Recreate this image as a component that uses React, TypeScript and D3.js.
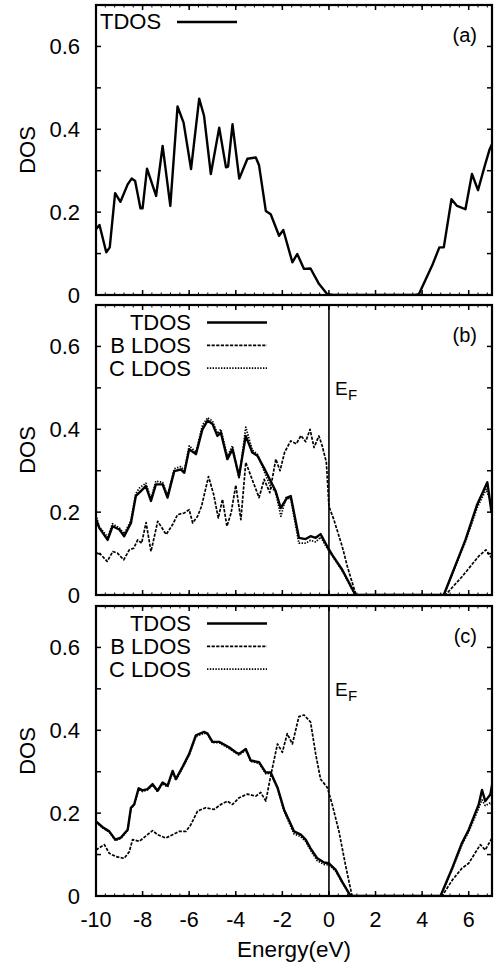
import React from 'react';
import * as d3 from 'd3';

// energy (eV), DOS pairs
const aTdos: [number, number][] = [
  [-10.06, 0.155], [-9.85, 0.169], [-9.56, 0.103], [-9.41, 0.115], [-9.18, 0.246], [-8.95, 0.225],
  [-8.64, 0.267], [-8.47, 0.281], [-8.32, 0.275], [-8.09, 0.209], [-8.0, 0.209], [-7.81, 0.305],
  [-7.42, 0.239], [-7.14, 0.36], [-6.81, 0.215], [-6.5, 0.455], [-6.24, 0.416], [-5.92, 0.304],
  [-5.57, 0.474], [-5.36, 0.432], [-5.07, 0.292], [-4.71, 0.404], [-4.42, 0.308], [-4.33, 0.31],
  [-4.14, 0.412], [-3.85, 0.281], [-3.5, 0.329], [-3.14, 0.332], [-3.0, 0.313], [-2.71, 0.203],
  [-2.5, 0.195], [-2.14, 0.143], [-1.96, 0.157], [-1.57, 0.079], [-1.36, 0.099], [-1.07, 0.063],
  [-0.79, 0.064], [-0.43, 0.027], [-0.07, 0.002], [0.2, 0], [3.7, 0], [3.86, 0.002],
  [4.43, 0.071], [4.74, 0.115], [4.93, 0.115], [5.26, 0.231], [5.5, 0.215], [5.86, 0.207],
  [6.14, 0.292], [6.4, 0.253], [6.69, 0.312], [6.9, 0.352], [7.05, 0.37],
];

const bTdos: [number, number][] = [
  [-10.04, 0.19], [-9.86, 0.162], [-9.5, 0.133], [-9.29, 0.166], [-9.0, 0.158], [-8.79, 0.142],
  [-8.5, 0.174], [-8.29, 0.239], [-8.14, 0.247], [-7.86, 0.263], [-7.64, 0.227], [-7.43, 0.267],
  [-7.14, 0.267], [-6.93, 0.235], [-6.64, 0.299], [-6.36, 0.303], [-6.21, 0.295], [-6.0, 0.352],
  [-5.71, 0.34], [-5.43, 0.4], [-5.21, 0.421], [-5.0, 0.413], [-4.79, 0.384], [-4.64, 0.392],
  [-4.36, 0.328], [-4.14, 0.352], [-3.86, 0.287], [-3.57, 0.384], [-3.29, 0.344], [-3.07, 0.336],
  [-2.79, 0.307], [-2.29, 0.251], [-2.07, 0.21], [-1.79, 0.235], [-1.64, 0.239], [-1.29, 0.138],
  [-1.0, 0.135], [-0.79, 0.142], [-0.57, 0.138], [-0.36, 0.147], [-0.07, 0.117], [0.14, 0.097],
  [0.57, 0.061], [1.14, 0], [4.93, 0], [5.86, 0.133], [6.36, 0.218], [6.8, 0.272], [6.98, 0.199],
];

const bBLdos: [number, number][] = [
  [-10.06, 0.105], [-9.78, 0.097], [-9.52, 0.081], [-9.28, 0.105], [-9.08, 0.101], [-8.81, 0.085],
  [-8.57, 0.109], [-8.38, 0.113], [-8.21, 0.133], [-8.04, 0.125], [-7.85, 0.175], [-7.64, 0.105],
  [-7.35, 0.178], [-6.99, 0.146], [-6.71, 0.17], [-6.5, 0.194], [-6.21, 0.198], [-6.0, 0.206],
  [-5.85, 0.174], [-5.64, 0.19], [-5.47, 0.214], [-5.17, 0.286], [-4.95, 0.243], [-4.75, 0.186],
  [-4.57, 0.231], [-4.38, 0.166], [-4.2, 0.198], [-4.0, 0.265], [-3.78, 0.182], [-3.57, 0.32],
  [-3.35, 0.287], [-3.0, 0.235], [-2.78, 0.279], [-2.54, 0.247], [-2.28, 0.328], [-2.1, 0.3],
  [-1.9, 0.345], [-1.64, 0.372], [-1.4, 0.365], [-1.2, 0.385], [-1.0, 0.37], [-0.81, 0.4],
  [-0.64, 0.356], [-0.43, 0.384], [-0.29, 0.36], [-0.11, 0.32], [0.0, 0.214], [0.21, 0.182],
  [0.57, 0.117], [0.79, 0.069], [1.14, 0.004], [1.2, 0], [5.0, 0], [5.71, 0.044], [6.42, 0.093],
  [6.74, 0.109], [6.99, 0.089],
];

const bCLdos: [number, number][] = [
  [-10.04, 0.2], [-9.86, 0.165], [-9.5, 0.14], [-9.29, 0.172], [-9.0, 0.162], [-8.79, 0.148],
  [-8.5, 0.18], [-8.29, 0.245], [-8.14, 0.258], [-7.86, 0.27], [-7.64, 0.232], [-7.43, 0.275],
  [-7.14, 0.272], [-6.93, 0.24], [-6.64, 0.305], [-6.36, 0.31], [-6.21, 0.3], [-6.0, 0.36],
  [-5.71, 0.345], [-5.43, 0.41], [-5.21, 0.428], [-5.0, 0.42], [-4.79, 0.39], [-4.64, 0.4],
  [-4.36, 0.335], [-4.14, 0.36], [-3.86, 0.28], [-3.57, 0.405], [-3.29, 0.35], [-3.07, 0.34],
  [-2.79, 0.3], [-2.5, 0.26], [-2.3, 0.25], [-2.06, 0.19], [-1.85, 0.235], [-1.64, 0.232],
  [-1.29, 0.125], [-1.0, 0.125], [-0.79, 0.132], [-0.57, 0.128], [-0.36, 0.14], [-0.07, 0.112],
  [0.14, 0.095], [0.57, 0.058], [1.12, 0], [4.93, 0], [5.86, 0.128], [6.36, 0.21], [6.75, 0.255],
  [6.97, 0.22],
];

const cTdos: [number, number][] = [
  [-10.0, 0.18], [-9.71, 0.166], [-9.43, 0.156], [-9.17, 0.136], [-8.93, 0.141], [-8.64, 0.16],
  [-8.5, 0.213], [-8.36, 0.221], [-8.17, 0.26], [-8.0, 0.255], [-7.79, 0.258], [-7.57, 0.27],
  [-7.36, 0.254], [-7.14, 0.274], [-6.93, 0.266], [-6.71, 0.302], [-6.57, 0.282], [-6.29, 0.311],
  [-6.0, 0.343], [-5.71, 0.388], [-5.36, 0.396], [-5.21, 0.392], [-5.0, 0.372], [-4.71, 0.372],
  [-4.29, 0.359], [-4.0, 0.347], [-3.86, 0.343], [-3.57, 0.355], [-3.36, 0.327], [-3.0, 0.323],
  [-2.71, 0.298], [-2.5, 0.298], [-2.21, 0.262], [-1.93, 0.209], [-1.5, 0.156], [-1.21, 0.148],
  [-1.0, 0.136], [-0.79, 0.115], [-0.5, 0.091], [-0.21, 0.081], [0.0, 0.079], [0.29, 0.063],
  [0.57, 0.034], [0.93, 0], [4.79, 0], [5.29, 0.067], [5.71, 0.128], [6.0, 0.16], [6.43, 0.221],
  [6.57, 0.256], [6.71, 0.229], [6.93, 0.245], [7.06, 0.286],
];

const cBLdos: [number, number][] = [
  [-10.0, 0.111], [-9.64, 0.124], [-9.43, 0.103], [-9.14, 0.095], [-8.79, 0.091], [-8.57, 0.107],
  [-8.43, 0.136], [-8.14, 0.132], [-7.79, 0.148], [-7.57, 0.158], [-7.36, 0.148], [-7.0, 0.14],
  [-6.71, 0.148], [-6.43, 0.156], [-6.14, 0.156], [-5.93, 0.172], [-5.64, 0.205], [-5.29, 0.213],
  [-4.93, 0.209], [-4.64, 0.221], [-4.36, 0.229], [-4.14, 0.221], [-3.86, 0.237], [-3.5, 0.246],
  [-3.14, 0.241], [-2.93, 0.25], [-2.71, 0.229], [-2.5, 0.29], [-2.21, 0.367], [-2.0, 0.347],
  [-1.79, 0.392], [-1.57, 0.367], [-1.29, 0.433], [-1.07, 0.437], [-0.79, 0.42], [-0.57, 0.343],
  [-0.36, 0.282], [-0.07, 0.262], [0.14, 0.221], [0.43, 0.156], [0.71, 0.075], [0.97, 0.006],
  [1.0, 0], [4.86, 0], [5.29, 0.038], [5.71, 0.067], [6.0, 0.079], [6.5, 0.124], [6.71, 0.111],
  [7.04, 0.144],
];

const cCLdos: [number, number][] = [
  [-10.0, 0.178], [-9.71, 0.164], [-9.43, 0.154], [-9.17, 0.134], [-8.93, 0.139], [-8.64, 0.158],
  [-8.5, 0.21], [-8.36, 0.22], [-8.17, 0.257], [-8.0, 0.252], [-7.79, 0.256], [-7.57, 0.267],
  [-7.36, 0.252], [-7.14, 0.271], [-6.93, 0.263], [-6.71, 0.299], [-6.57, 0.28], [-6.29, 0.308],
  [-6.0, 0.34], [-5.71, 0.385], [-5.36, 0.393], [-5.21, 0.39], [-5.0, 0.37], [-4.71, 0.37],
  [-4.29, 0.356], [-4.0, 0.345], [-3.86, 0.34], [-3.57, 0.352], [-3.36, 0.325], [-3.0, 0.32],
  [-2.71, 0.295], [-2.5, 0.296], [-2.21, 0.26], [-1.93, 0.205], [-1.5, 0.15], [-1.21, 0.143],
  [-1.0, 0.132], [-0.79, 0.11], [-0.5, 0.085], [-0.21, 0.076], [0.0, 0.075], [0.29, 0.06],
  [0.57, 0.032], [0.93, 0], [4.79, 0], [5.29, 0.064], [5.71, 0.124], [6.0, 0.155], [6.43, 0.212],
  [6.57, 0.232], [6.71, 0.218], [6.93, 0.225], [7.06, 0.215],
];

const xTicks = [-10, -8, -6, -4, -2, 0, 2, 4, 6];
const yTicks = [0, 0.2, 0.4, 0.6];
const legendNames = ['TDOS', 'B LDOS', 'C LDOS'];
const panelTags = ['(a)', '(b)', '(c)'];

const FONT = 'Liberation Sans, Arial, Helvetica, sans-serif';
const left = 96;
const right = 492;
const panelTops = [5, 305, 606];
const panelH = 290;

const dashes = ['', '3.2,1.4', '1.4,1.4'];
const widths = [2.4, 1.7, 1.7];

const x = d3.scaleLinear().domain([-10, 7]).range([left, right]);

const panels = [
  { series: [aTdos], ef: false },
  { series: [bTdos, bBLdos, bCLdos], ef: true },
  { series: [cTdos, cBLdos, cCLdos], ef: true },
];

function Panel({ idx }: { idx: number }) {
  const top = panelTops[idx];
  const bottom = top + panelH;
  const y = d3.scaleLinear().domain([0, 0.7]).range([bottom, top]);
  const line = d3.line<[number, number]>().x(d => x(d[0])).y(d => y(d[1]));
  const p = panels[idx];
  const minorX = d3.range(-10, 7.001, 0.4);
  const minorY = d3.range(0.1, 0.7, 0.1);
  const clipId = `clip${idx}`;
  return (
    <g>
      <defs>
        <clipPath id={clipId}>
          <rect x={left} y={top} width={right - left} height={panelH} />
        </clipPath>
      </defs>
      <g clipPath={`url(#${clipId})`}>
        {p.series.slice().reverse().map((s, ri) => {
          const i = p.series.length - 1 - ri;
          return (
            <path key={i} d={line(s) || ''} fill="none" stroke="#000"
              strokeWidth={widths[i]} strokeDasharray={dashes[i] || undefined}
              strokeLinejoin="round" />
          );
        })}
      </g>
      {minorX.map(v => (
        <g key={'mx' + v}>
          <line x1={x(v)} x2={x(v)} y1={bottom} y2={bottom - 2.5} stroke="#000" strokeWidth={1} />
          <line x1={x(v)} x2={x(v)} y1={top} y2={top + 2.5} stroke="#000" strokeWidth={1} />
        </g>
      ))}
      {xTicks.map(v => (
        <g key={'x' + v}>
          <line x1={x(v)} x2={x(v)} y1={bottom} y2={bottom - 5} stroke="#000" strokeWidth={1.5} />
          <line x1={x(v)} x2={x(v)} y1={top} y2={top + 5} stroke="#000" strokeWidth={1.5} />
        </g>
      ))}
      {minorY.map(v => (
        <g key={'y' + v}>
          <line x1={left} x2={left + 5} y1={y(v)} y2={y(v)} stroke="#000" strokeWidth={1.5} />
          <line x1={right} x2={right - 5} y1={y(v)} y2={y(v)} stroke="#000" strokeWidth={1.5} />
        </g>
      ))}
      {yTicks.map(v => (
        <text key={'yl' + v} x={80} y={y(v)} dy="0.36em" textAnchor="end"
          fontFamily={FONT} fontSize={22}>{v === 0 ? '0' : v.toFixed(1)}</text>
      ))}
      {p.ef && (
        <g>
          <line x1={x(0)} x2={x(0)} y1={top} y2={bottom} stroke="#000" strokeWidth={1.6} />
          <text x={335} y={top + 90} fontFamily={FONT} fontSize={19}>E</text>
          <text x={348} y={top + 95} fontFamily={FONT} fontSize={15}>F</text>
        </g>
      )}
      {p.series.length === 1 ? (
        <g>
          <text x={100} y={top + 24} fontFamily={FONT} fontSize={22}>{legendNames[0]}</text>
          <line x1={177} x2={237} y1={top + 17} y2={top + 17} stroke="#000" strokeWidth={widths[0]} />
        </g>
      ) : (
        legendNames.map((n, i) => (
          <g key={n}>
            <text x={191} y={top + 24.5 + i * 23.2} textAnchor="end" fontFamily={FONT} fontSize={22}>{n}</text>
            <line x1={207} x2={267} y1={top + 17.5 + i * 22.8} y2={top + 17.5 + i * 22.8}
              stroke="#000" strokeWidth={widths[i]} strokeDasharray={dashes[i] || undefined} />
          </g>
        ))
      )}
      <text x={477} y={top + 37} textAnchor="end" fontFamily={FONT} fontSize={20}>{panelTags[idx]}</text>
      <text transform={`translate(35,${(top + bottom) / 2}) rotate(-90)`} textAnchor="middle"
        fontFamily={FONT} fontSize={22}>DOS</text>
      <rect x={left} y={top} width={right - left} height={panelH} fill="none" stroke="#000" strokeWidth={2.2} />
    </g>
  );
}

export default function App() {
  const bottom = panelTops[2] + panelH;
  return (
    <svg width={495} height={969} style={{ position: 'absolute', left: 0, top: 0, background: '#fff' }}>
      <rect width={495} height={969} fill="#fff" />
      {[0, 1, 2].map(i => <Panel key={i} idx={i} />)}
      {xTicks.map(v => (
        <text key={v} x={x(v)} y={bottom + 31} textAnchor="middle" fontFamily={FONT} fontSize={21.5}>{v}</text>
      ))}
      <text x={(left + right) / 2} y={957} textAnchor="middle" fontFamily={FONT} fontSize={22.5}>Energy(eV)</text>
    </svg>
  );
}
